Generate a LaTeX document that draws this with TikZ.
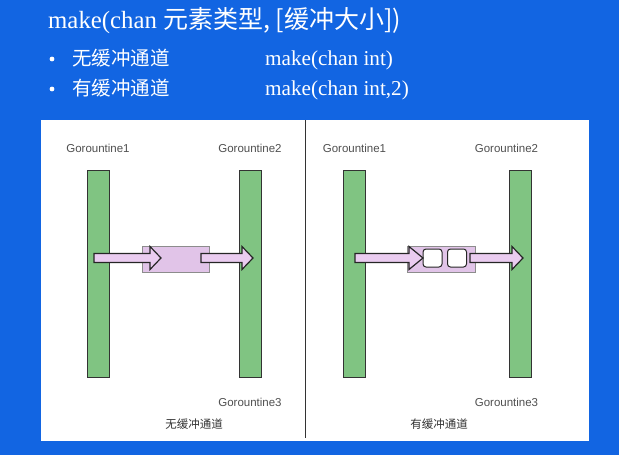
\documentclass[tikz,border=0pt]{standalone}
\usepackage{fontspec}
\setmainfont{Liberation Serif}
\newfontfamily\cjk{Noto Sans CJK SC}
\newfontfamily\lsans{Liberation Sans}
\definecolor{bgblue}{RGB}{18,101,226}
\definecolor{bargreen}{RGB}{128,196,130}
\definecolor{boxpurple}{RGB}{225,196,232}
\definecolor{arrowpink}{RGB}{234,204,240}
\definecolor{lbl}{RGB}{80,80,80}
\tikzset{
  bar/.style={draw=black!80, line width=1pt, fill=bargreen, minimum width=22pt, minimum height=207pt, inner sep=0pt},
  chanbox/.style={draw=black!45, line width=0.8pt, fill=boxpurple, minimum height=26pt, inner sep=0pt},
  slot/.style={draw=black!85, line width=1pt, fill=white, rounded corners=3pt, minimum width=19pt, minimum height=18pt, inner sep=0pt},
  flow/.style={draw=black!85, line width=1.2pt, fill=arrowpink, line join=miter},
  glabel/.style={font=\lsans\fontsize{11.5}{13}\selectfont, text=lbl, inner sep=0pt},
  caption/.style={font=\cjk\fontsize{11.5}{13}\selectfont, text=black!80, inner sep=0pt},
  headtext/.style={text=white, inner sep=0pt, anchor=base west}
}
\begin{document}
\begin{tikzpicture}[x=1pt,y=-1pt]
\useasboundingbox (0,0) rectangle (619,455);
\fill[bgblue] (0,0) rectangle (619,455);
% title and bullets
\node[headtext] (title) at (48,28) {\fontsize{24.8}{28}\selectfont make(chan {\cjk\fontsize{25}{28}\selectfont 元素类型, [缓冲大小])}};
\fill[white] (52,59) circle (2.4pt);
\fill[white] (52,89) circle (2.4pt);
\node[headtext] (b1) at (72,65) {\cjk\fontsize{19.5}{22}\selectfont 无缓冲通道};
\node[headtext] (c1) at (265,65) {\fontsize{21.2}{24}\selectfont make(chan int)};
\node[headtext] (b2) at (72,95) {\cjk\fontsize{19.5}{22}\selectfont 有缓冲通道};
\node[headtext] (c2) at (265,95) {\fontsize{21.2}{24}\selectfont make(chan int,2)};
% white panel
\fill[white] (41,120) rectangle (589,441);
\draw[black!80, line width=1pt] (305,120) -- (305,438);
% left panel
\node[glabel] (lg1) at (98,148) {Gorountine1};
\node[glabel] (lg2) at (250,148) {Gorountine2};
\node[glabel] (lg3) at (250,402) {Gorountine3};
\node[caption] (lcap) at (194,424) {无缓冲通道};
\node[bar] (lbar1) at (98,273.5) {};
\node[bar] (lbar2) at (250,273.5) {};
\node[chanbox, minimum width=67pt] (lbox) at (175.5,259) {};
\draw[flow] (94,253.5) -- (150,253.5) -- (150,246.5) -- (161,258) -- (150,269.5) -- (150,262.5) -- (94,262.5) -- cycle;
\draw[flow] (201,253.5) -- (242,253.5) -- (242,246.5) -- (253,258) -- (242,269.5) -- (242,262.5) -- (201,262.5) -- cycle;
% right panel
\node[glabel] (rg1) at (354.5,148) {Gorountine1};
\node[glabel] (rg2) at (506.5,148) {Gorountine2};
\node[glabel] (rg3) at (506.5,402) {Gorountine3};
\node[caption] (rcap) at (439,424) {有缓冲通道};
\node[bar] (rbar1) at (354.5,273.5) {};
\node[bar] (rbar2) at (520.5,273.5) {};
\node[chanbox, minimum width=68pt] (rbox) at (441,259) {};
\node[slot] (s1) at (432.5,258) {};
\node[slot] (s2) at (457,258) {};
\draw[flow] (355,253.5) -- (409,253.5) -- (409,246.5) -- (423,258) -- (409,269.5) -- (409,262.5) -- (355,262.5) -- cycle;
\draw[flow] (470,253.5) -- (512,253.5) -- (512,246.5) -- (523,258) -- (512,269.5) -- (512,262.5) -- (470,262.5) -- cycle;
\end{tikzpicture}
\end{document}
